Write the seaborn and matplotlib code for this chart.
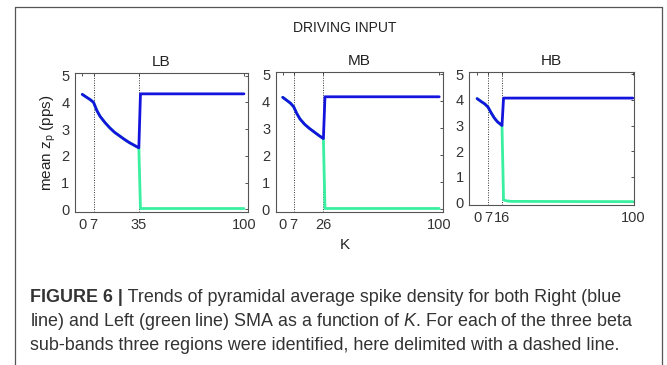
import numpy as np
import pandas as pd
import matplotlib
matplotlib.use("Agg")
import matplotlib.pyplot as plt
import seaborn as sns

# data
lb_k = [0, 3, 5, 7, 9, 11, 14, 17, 20, 23, 26, 29, 32, 35, 36, 100]
lb_right = [4.30, 4.18, 4.10, 4.00, 3.70, 3.48, 3.25, 3.05, 2.88, 2.75, 2.62, 2.50, 2.40, 2.30, 4.32, 4.32]
lb_left = [4.30, 4.18, 4.10, 4.00, 3.70, 3.48, 3.25, 3.05, 2.88, 2.75, 2.62, 2.50, 2.40, 2.30, 0.03, 0.03]

mb_k = [0, 3, 5, 7, 9, 11, 14, 17, 20, 23, 26, 27, 100]
mb_right = [4.15, 4.02, 3.93, 3.80, 3.55, 3.35, 3.15, 3.00, 2.87, 2.74, 2.62, 4.17, 4.17]
mb_left = [4.15, 4.02, 3.93, 3.80, 3.55, 3.35, 3.15, 3.00, 2.87, 2.74, 2.62, 0.03, 0.03]

hb_k = [0, 3, 5, 7, 9, 11, 13, 16, 17, 19, 22, 100]
hb_right = [4.05, 3.92, 3.84, 3.72, 3.50, 3.30, 3.15, 3.00, 4.07, 4.07, 4.07, 4.07]
hb_left = [4.05, 3.92, 3.84, 3.72, 3.50, 3.30, 3.15, 3.00, 0.10, 0.06, 0.04, 0.03]

bands = ["LB", "MB", "HB"]
boundaries = [[7, 35], [7, 26], [7, 16]]
xticks = [[0, 7, 35, 100], [0, 7, 26, 100], [0, 7, 16, 100]]

sns.set_style("white")
plt.rcParams["font.family"] = ["Liberation Sans", "DejaVu Sans"]
plt.rcParams["mathtext.fontset"] = "custom"
plt.rcParams["mathtext.rm"] = "Liberation Sans"
plt.rcParams["mathtext.it"] = "Liberation Sans:italic"

fig = plt.figure(figsize=(6.67, 3.65), dpi=100)

positions = [[0.1124, 0.4192, 0.2594, 0.3808],
             [0.4133, 0.4192, 0.2508, 0.3844],
             [0.7036, 0.4384, 0.2474, 0.3652]]
xlims = [(-4.5, 102.5), (-4.5, 102.4), (-5, 101)]

series = [(lb_k, lb_right, lb_left), (mb_k, mb_right, mb_left), (hb_k, hb_right, hb_left)]
blue = "#1414dc"
green = "#38f0a0"

for i, (k, right, left) in enumerate(series):
    ax = fig.add_axes(positions[i])
    df = pd.DataFrame({"K": k + k, "z": left + right,
                       "side": ["Left"] * len(k) + ["Right"] * len(k)})
    sns.lineplot(data=df, x="K", y="z", hue="side", palette={"Left": green, "Right": blue},
                 linewidth=2.0, legend=False, ax=ax, sort=False, estimator=None)
    for b in boundaries[i]:
        ax.axvline(b, color="#333333", linestyle=(0, (1, 1.5)), linewidth=0.7, zorder=0)
    ax.set_xlim(xlims[i])
    ax.set_ylim(-0.1, 5.1)
    ax.set_xticks(xticks[i])
    ax.set_yticks([0, 1, 2, 3, 4, 5])
    ax.set_xlabel("")
    ax.set_ylabel("")
    ax.tick_params(direction="in", length=2.5, width=0.6, top=True, right=True,
                   labelsize=10.5, colors="#333333", pad=4)
    for s in ax.spines.values():
        s.set_color("#555555")
        s.set_linewidth(0.8)
    ax.set_title(bands[i], fontsize=11, color="#222222", pad=5)
    if i == 0:
        ax.set_ylabel("mean $\\mathregular{z_p}$ (pps)", fontsize=11, color="#222222", labelpad=2)

fig.text(0.517, 0.923, "DRIVING INPUT", ha="center", va="center", fontsize=10, color="#222222")
fig.text(0.517, 0.328, "K", ha="center", va="center", fontsize=11, color="#222222")

# outer frame
fig.add_artist(plt.Line2D([15 / 667, 15 / 667], [0, 1 - 7 / 365], transform=fig.transFigure,
                          color="#555555", linewidth=0.9))
fig.add_artist(plt.Line2D([15 / 667, 662 / 667], [1 - 7 / 365, 1 - 7 / 365], transform=fig.transFigure,
                          color="#555555", linewidth=0.9))
fig.add_artist(plt.Line2D([662 / 667, 662 / 667], [0, 1 - 7 / 365], transform=fig.transFigure,
                          color="#555555", linewidth=0.9))

# caption
cap_kw = dict(fontsize=12.9, color="#333333", family=["Liberation Sans", "DejaVu Sans"], va="center")
t1 = fig.text(30 / 667, 1 - 298 / 365, "FIGURE 6 |", fontweight="bold", **cap_kw)
fig.canvas.draw()
plt.annotate(" Trends of pyramidal average spike density for both Right (blue",
             xy=(1, 0.5), xycoords=t1, ha="left", **cap_kw)
fig.text(30 / 667, 1 - 322 / 365, "line) and Left (green line) SMA as a function of $K$. For each of the three beta",
         **cap_kw)
fig.text(30 / 667, 1 - 346 / 365, "sub-bands three regions were identified, here delimited with a dashed line.",
         **cap_kw)

fig.savefig("out.png", dpi=100)
